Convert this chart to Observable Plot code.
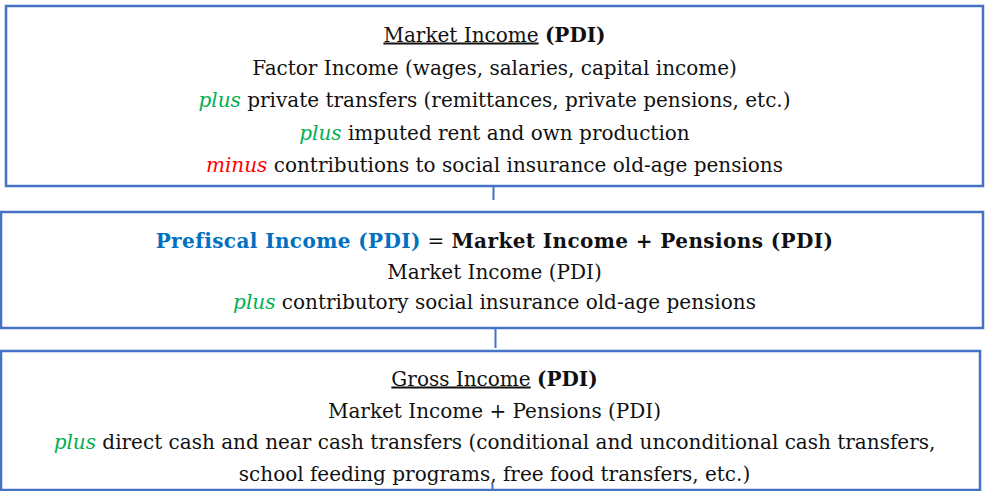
<!DOCTYPE html>
<html><head><meta charset="utf-8">
<script src="https://cdn.jsdelivr.net/npm/d3@7"></script>
<script src="https://cdn.jsdelivr.net/npm/@observablehq/plot@0.6"></script>
<style>html,body{margin:0;padding:0;background:#fff} svg{display:block}</style>
</head><body><div id="chart"></div>
<script>
// ---- content ----
const boxNames = ["Market Income", "Prefiscal Income", "Gross Income"];
// each line: list of [text, style]; styles: n normal, u underline, b bold, g green italic, r red italic, bb blue bold
const lineSegments = [
  [["Market Income","u"],[" ","n"],["(PDI)","b"]],
  [["Factor Income (wages, salaries, capital income)","n"]],
  [["plus","g"],[" private transfers (remittances, private pensions, etc.)","n"]],
  [["plus","g"],[" imputed rent and own production","n"]],
  [["minus","r"],[" contributions to social insurance old-age pensions","n"]],
  [["Prefiscal Income (PDI)","bb"],[" = ","n"],["Market Income + Pensions (PDI)","b"]],
  [["Market Income (PDI)","n"]],
  [["plus","g"],[" contributory social insurance old-age pensions","n"]],
  [["Gross Income","u"],[" ","n"],["(PDI)","b"]],
  [["Market Income + Pensions (PDI)","n"]],
  [["plus","g"],[" direct cash and near cash transfers (conditional and unconditional cash transfers,","n"]],
  [["school feeding programs, free food transfers, etc.)","n"]]
];
const lineBox = [0,0,0,0,0,1,1,1,2,2,2,2];
const lineText = lineSegments.map(s => s.map(d => d[0]).join(""));

// ---- layout ----
const boxX1 = [6, 1, 1], boxX2 = [983, 983, 980];
const boxY1 = [6, 212, 351], boxY2 = [186, 328, 490];
const lineY = [41, 74, 106, 139, 171, 247, 278, 308, 385, 417, 448, 480];
const connX = [493, 495, 492], connY1 = [186, 328, 484], connY2 = [200, 348, 491];
const centerX = 494;
const FONT = "'DejaVu Serif'";
const headLine = 5; // the bold headline line gets slight letter spacing

const styles = {
  n: {fill: "#111"},
  u: {fill: "#111", deco: "underline"},
  b: {fill: "#111", weight: "bold"},
  g: {fill: "#00B050", italic: true},
  r: {fill: "#FF0000", italic: true},
  bb: {fill: "#0070C0", weight: "bold"}
};

const boxIdx = d3.range(boxNames.length);
const lineIdx = d3.range(lineText.length);
const connIdx = d3.range(connX.length);

const chart = Plot.plot({
  width: 986, height: 491, margin: 0,
  x: {domain: [0, 986], range: [0, 986], axis: null},
  y: {domain: [0, 491], range: [0, 491], axis: null},
  marks: [
    Plot.ruleX(connIdx, {x: i => connX[i], y1: i => connY1[i], y2: i => connY2[i], stroke: "#4472C4", strokeWidth: 2}),
    Plot.rect(boxIdx, {x1: i => boxX1[i], x2: i => boxX2[i], y1: i => boxY1[i], y2: i => boxY2[i], fill: "none", stroke: "#4472C4", strokeWidth: 2.5}),
    Plot.text(lineIdx, {x: centerX, y: i => lineY[i], text: i => lineText[i], lineAnchor: "bottom", textAnchor: "middle",
      fontSize: 20, fontFamily: FONT, fill: "#111"})
  ]
});
document.getElementById("chart").appendChild(chart);

// rebuild each text line with styled runs
const texts = d3.select(chart).selectAll('g[aria-label="text"] text').nodes();
texts.forEach((node, i) => {
  const t = d3.select(node);
  t.text(null).attr("xml:space", "preserve").attr("font-family", FONT);
  if (i === headLine) t.attr("letter-spacing", 0.4);
  lineSegments[i].forEach(([str, s]) => {
    const st = styles[s];
    const ts = t.append("tspan").text(str).attr("fill", st.fill);
    if (st.weight) ts.attr("font-weight", st.weight);
    if (st.italic) ts.attr("font-style", "italic");
    if (st.deco) ts.style("text-decoration", st.deco);
  });
});
</script>
</body></html>
